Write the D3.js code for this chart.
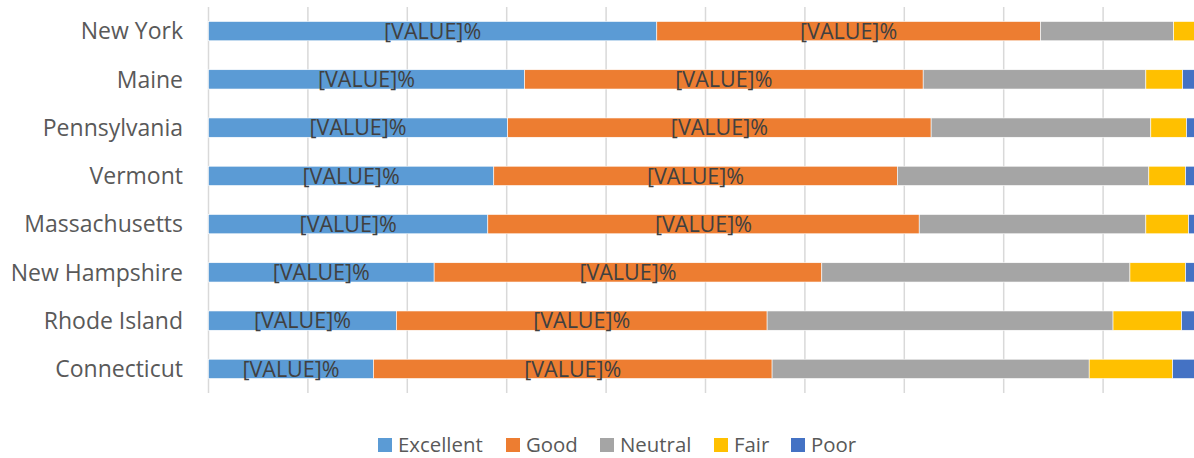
<!DOCTYPE html>
<html>
<head>
<meta charset="utf-8">
<script src="https://cdnjs.cloudflare.com/ajax/libs/d3/7.8.5/d3.min.js"></script>
<style>
  body { margin: 0; background: #fff; }
  svg text { font-family: "Open Sans", "Noto Sans", sans-serif; }
</style>
</head>
<body>
<svg id="chart" width="1194" height="458"></svg>
<script>
// states, top to bottom
var states = ["New York", "Maine", "Pennsylvania", "Vermont", "Massachusetts",
              "New Hampshire", "Rhode Island", "Connecticut"];
var seriesNames = ["Excellent", "Good", "Neutral", "Fair", "Poor"];

// percent per state, same order as states
var excellent = [45.1, 31.8, 30.1, 28.7, 28.1, 22.7, 18.9, 16.6];
var good      = [38.6, 40.1, 42.6, 40.6, 43.4, 39.0, 37.3, 40.1];
var neutral   = [13.4, 22.4, 22.1, 25.3, 22.8, 31.0, 34.8, 31.9];
var fair      = [2.4, 3.7, 3.6, 3.7, 4.3, 5.6, 6.9, 8.4];
var poor      = [0.5, 2.0, 1.7, 1.7, 1.3, 1.7, 2.1, 3.0];

var colors = ["#5b9bd5", "#ed7d31", "#a5a5a5", "#ffc000", "#4472c4"];
var labelled = ["Excellent", "Good"];

var data = states.map(function(s, i) {
  return { state: s, Excellent: excellent[i], Good: good[i], Neutral: neutral[i],
           Fair: fair[i], Poor: poor[i] };
});

var svg = d3.select("#chart"),
    margin = {top: 7, left: 208.5},
    width = 994,
    height = 386;

var x = d3.scaleLinear().domain([0, 100]).range([0, width]);
var y = d3.scaleBand().domain(states).range([0, height]).paddingInner(0.6).paddingOuter(0.3);
var color = d3.scaleOrdinal().domain(seriesNames).range(colors);

var g = svg.append("g")
  .attr("transform", "translate(" + margin.left + "," + margin.top + ")");

// gridlines
g.append("g")
  .selectAll("line")
  .data(d3.range(0, 101, 10))
  .enter().append("line")
    .attr("x1", function(d) { return x(d); })
    .attr("x2", function(d) { return x(d); })
    .attr("y1", 0)
    .attr("y2", height)
    .attr("stroke", "#d9d9d9")
    .attr("stroke-width", 1.5);

var stack = d3.stack().keys(seriesNames);
var layers = stack(data);

var layer = g.selectAll("g.layer")
  .data(layers)
  .enter().append("g")
    .attr("class", "layer")
    .attr("fill", function(d) { return color(d.key); });

layer.selectAll("rect")
  .data(function(d) { return d; })
  .enter().append("rect")
    .attr("x", function(d) { return x(d[0]); })
    .attr("y", function(d) { return y(d.data.state); })
    .attr("width", function(d) { return x(d[1]) - x(d[0]); })
    .attr("height", y.bandwidth())
    .attr("stroke", "#fff")
    .attr("stroke-width", 0.6);

// data labels only for Excellent and Good
layers.filter(function(l) { return labelled.indexOf(l.key) >= 0; }).forEach(function(l) {
  g.append("g").selectAll("text")
    .data(l)
    .enter().append("text")
      .attr("x", function(d) { return (x(d[0]) + x(d[1])) / 2; })
      .attr("y", function(d) { return y(d.data.state) + y.bandwidth() / 2; })
      .attr("dy", "0.36em")
      .attr("text-anchor", "middle")
      .attr("fill", "#404040")
      .style("font-size", "21.5px")
      .text("[VALUE]%");
});

// category labels
g.append("g").selectAll("text")
  .data(states)
  .enter().append("text")
    .attr("x", -25.5)
    .attr("y", function(d) { return y(d) + y.bandwidth() / 2; })
    .attr("dy", "0.36em")
    .attr("text-anchor", "end")
    .attr("fill", "#595959")
    .style("font-size", "23px")
    .text(function(d) { return d; });

// legend
var legendX = [378, 506, 600, 714, 791];
var legend = svg.append("g").attr("transform", "translate(0,445)");
var item = legend.selectAll("g")
  .data(seriesNames)
  .enter().append("g")
    .attr("transform", function(d, i) { return "translate(" + legendX[i] + ",0)"; });
item.append("rect")
  .attr("x", 0).attr("y", -7)
  .attr("width", 14).attr("height", 14)
  .attr("fill", function(d) { return color(d); });
item.append("text")
  .attr("x", 20)
  .attr("dy", "0.36em")
  .attr("fill", "#595959")
  .style("font-size", "20.4px")
  .text(function(d) { return d; });
</script>
</body>
</html>
